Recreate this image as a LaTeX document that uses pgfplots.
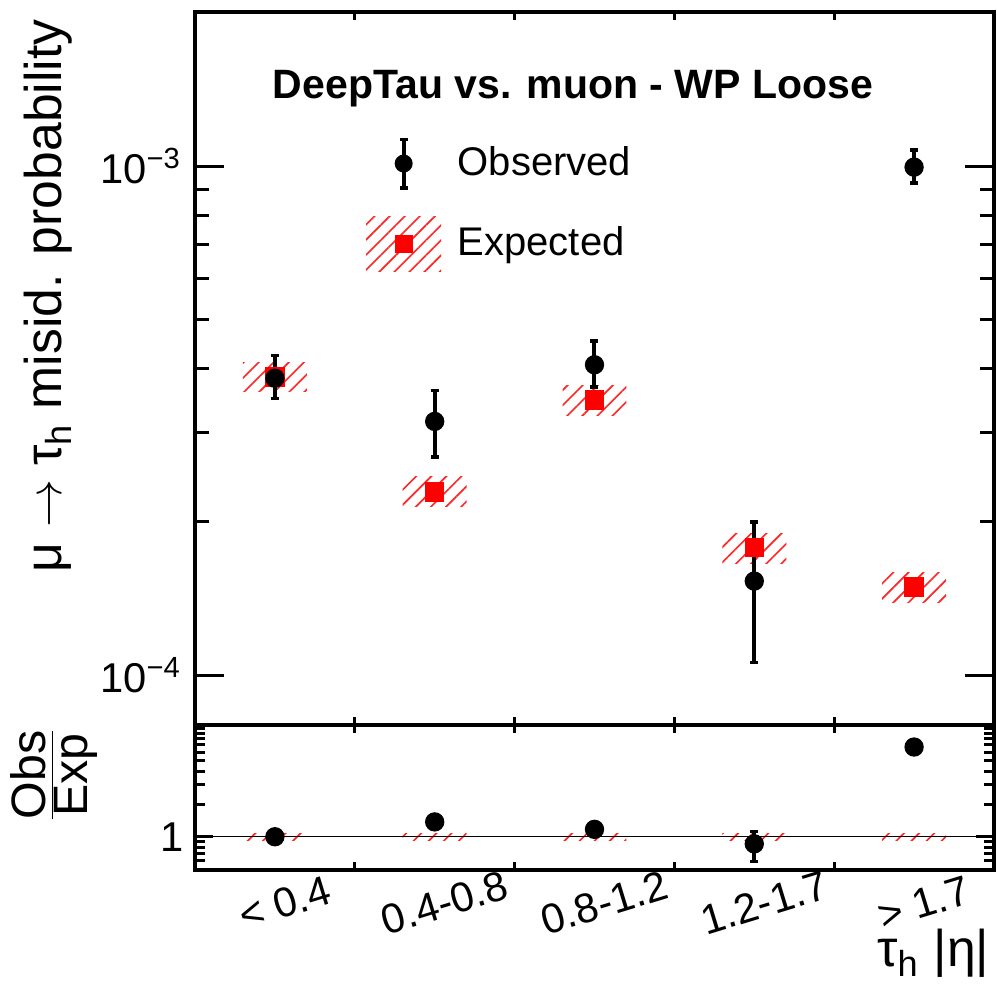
\documentclass[border=0pt]{standalone}
\usepackage{fontspec}
\setmainfont{Liberation Sans}
\usepackage{pgfplots}
\usepackage{pgfplotstable}
\pgfplotsset{compat=1.18}
\usetikzlibrary{patterns.meta}

% observed / expected misid. probability per tau_h |eta| bin
\pgfplotstableread{
x obs     ep      em      exp
0 3.83e-4 0.41e-4 0.34e-4 3.85e-4
1 3.15e-4 0.47e-4 0.47e-4 2.29e-4
2 4.07e-4 0.46e-4 0.39e-4 3.47e-4
3 1.53e-4 0.47e-4 0.47e-4 1.78e-4
4 9.95e-4 0.80e-4 0.69e-4 1.49e-4
}\maintab

% Obs/Exp ratio
\pgfplotstableread{
x r    ep   em
0 1.00 0.05 0.05
1 1.37 0.10 0.10
2 1.17 0.08 0.08
3 0.86 0.26 0.27
4 6.70 0.30 0.30
}\ratiotab

\pgfplotsset{
  frame/.style={
    scale only axis, width=239.7pt,
    xmin=-0.5, xmax=4.5,
    axis line style={line width=1.2pt},
    tick style={line width=0.9pt, black},
    tick align=inside,
    xtick=\empty,
    extra x ticks={0.5,1.5,2.5,3.5},
    extra x tick labels={},
    extra x tick style={major tick length=2.4pt},
  },
  hatch/.style={draw=none, forget plot,
    pattern={Lines[angle=45, distance=3.2pt, line width=0.5pt]},
    pattern color=red!85},
  errs/.style={error bars/.cd, y dir=both, y explicit,
    error bar style={line width=1.2pt, black},
    error mark options={rotate=90, line width=1pt, mark size=1.2pt, black}},
}

\begin{document}
\begin{tikzpicture}
\path[use as bounding box] (-58.5pt,-77.4pt) rectangle (240.6pt,217.5pt);

\begin{axis}[frame,
    at={(0pt,0pt)}, anchor=south west,
    height=213.9pt,
    ymode=log, ymin=7.98e-5, ymax=2.007e-3,
    ytick={1e-4,1e-3},
    yticklabels={10\textsuperscript{−4},10\textsuperscript{−3}},
    minor ytick={2e-4,3e-4,4e-4,5e-4,6e-4,7e-4,8e-4,9e-4,2e-3},
    major tick length=8.7pt, minor tick length=4.2pt,
    yticklabel style={font=\fontsize{12.5}{14}\selectfont, xshift=-0.5pt},
    ylabel={μ $\rightarrow$ τ\textsubscript{h} misid. probability},
    ylabel style={font=\fontsize{15.5}{18}\selectfont,
      at={(axis description cs:-0.184,1.006)}, anchor=east},
    legend style={draw=none, fill=none, inner sep=0pt,
      at={(axis description cs:0.2134,0.827)}, anchor=north west,
      font=\fontsize{12}{14}\selectfont, row sep=7.5pt,
      /tikz/every odd column/.append style={column sep=3pt}},
    legend cell align=left,
  ]
  \addlegendimage{legend image code/.code={
    \path[draw=none] (0pt,-8.25pt) rectangle (22.5pt,8.25pt);
    \draw[black, line width=1.2pt] (11.25pt,-7.3pt) -- (11.25pt,7.3pt);
    \draw[black, line width=1pt] (10pt,-7.3pt) -- (12.5pt,-7.3pt) (10pt,7.3pt) -- (12.5pt,7.3pt);
    \fill[black, draw=none] (11.25pt,0pt) circle (2.7pt);
  }}
  \addlegendentry{Observed}
  \addlegendimage{legend image code/.code={
    \fill[draw=none, pattern={Lines[angle=45, distance=3.2pt, line width=0.5pt]}, pattern color=red!85]
      (0pt,-8.25pt) rectangle (22.5pt,8.25pt);
    \fill[red, draw=none] (8.55pt,-2.7pt) rectangle (13.95pt,2.7pt);
  }}
  \addlegendentry{Expected}

  \addplot[hatch] coordinates {(-0.2,3.60e-4) (0.2,3.60e-4) (0.2,4.12e-4) (-0.2,4.12e-4)} -- cycle;
  \addplot[hatch] coordinates {(0.8,2.14e-4) (1.2,2.14e-4) (1.2,2.45e-4) (0.8,2.45e-4)} -- cycle;
  \addplot[hatch] coordinates {(1.8,3.24e-4) (2.2,3.24e-4) (2.2,3.71e-4) (1.8,3.71e-4)} -- cycle;
  \addplot[hatch] coordinates {(2.8,1.66e-4) (3.2,1.66e-4) (3.2,1.90e-4) (2.8,1.90e-4)} -- cycle;
  \addplot[hatch] coordinates {(3.8,1.39e-4) (4.2,1.39e-4) (4.2,1.59e-4) (3.8,1.59e-4)} -- cycle;

  \addplot[only marks, mark=square*, mark size=2.7pt, red, forget plot]
    table[x=x, y=exp] {\maintab};
  \addplot[only marks, mark=*, mark size=2.7pt, black, forget plot, errs]
    table[x=x, y=obs, y error plus=ep, y error minus=em] {\maintab};

  \node[font=\fontsize{12.3}{14}\selectfont\bfseries] at (rel axis cs:0.473,0.893)
    {DeepTau vs. muon - WP Loose};
\end{axis}

\begin{axis}[frame,
    at={(0pt,0pt)}, anchor=north west,
    height=43.5pt,
    ymode=log, ymin=0.494, ymax=10.68,
    ytick={1}, yticklabels={1},
    minor ytick={0.5,0.6,0.7,0.8,0.9,2,3,4,5,6,7,8,9,10},
    major tick length=5.4pt, minor tick length=3pt,
    yticklabel style={font=\fontsize{12.5}{14}\selectfont},
    ylabel={$\frac{\mbox{Obs}}{\mbox{Exp}}$},
    ylabel style={font=\fontsize{14.5}{17}\selectfont,
      at={(axis description cs:-0.1765,0.655)}, anchor=center},
    xlabel={τ\textsubscript{h} |η|},
    xlabel style={font=\fontsize{15.5}{18}\selectfont, inner sep=0pt,
      at={(axis description cs:0.995,0)}, anchor=north east, yshift=-17.5pt},
  ]
  \addplot[hatch] coordinates {(-0.2,0.93) (0.2,0.93) (0.2,1.08) (-0.2,1.08)} -- cycle;
  \addplot[hatch] coordinates {(0.8,0.93) (1.2,0.93) (1.2,1.08) (0.8,1.08)} -- cycle;
  \addplot[hatch] coordinates {(1.8,0.93) (2.2,0.93) (2.2,1.08) (1.8,1.08)} -- cycle;
  \addplot[hatch] coordinates {(2.8,0.93) (3.2,0.93) (3.2,1.08) (2.8,1.08)} -- cycle;
  \addplot[hatch] coordinates {(3.8,0.93) (4.2,0.93) (4.2,1.08) (3.8,1.08)} -- cycle;
  \addplot[black, line width=0.45pt, forget plot] coordinates {(-0.5,1) (4.5,1)};
  \addplot[only marks, mark=*, mark size=2.7pt, black, errs]
    table[x=x, y=r, y error plus=ep, y error minus=em] {\ratiotab};
\end{axis}

% bin labels of the tau_h |eta| axis
\begin{axis}[
    at={(0pt,-43.5pt)}, anchor=south west,
    scale only axis, width=239.7pt, height=43.5pt,
    xmin=-0.5, xmax=4.5, ymin=0, ymax=1,
    axis line style={draw=none},
    ytick=\empty,
    xtick={0,1,2,3,4},
    xticklabels={<~0.4, 0.4-0.8, 0.8-1.2, 1.2-1.7, >~1.7},
    major tick length=0pt,
    xticklabel style={font=\fontsize{12.5}{14}\selectfont, rotate=17, anchor=center,
      inner sep=0pt, yshift=-10.3pt},
  ]
\end{axis}
\end{tikzpicture}
\end{document}
